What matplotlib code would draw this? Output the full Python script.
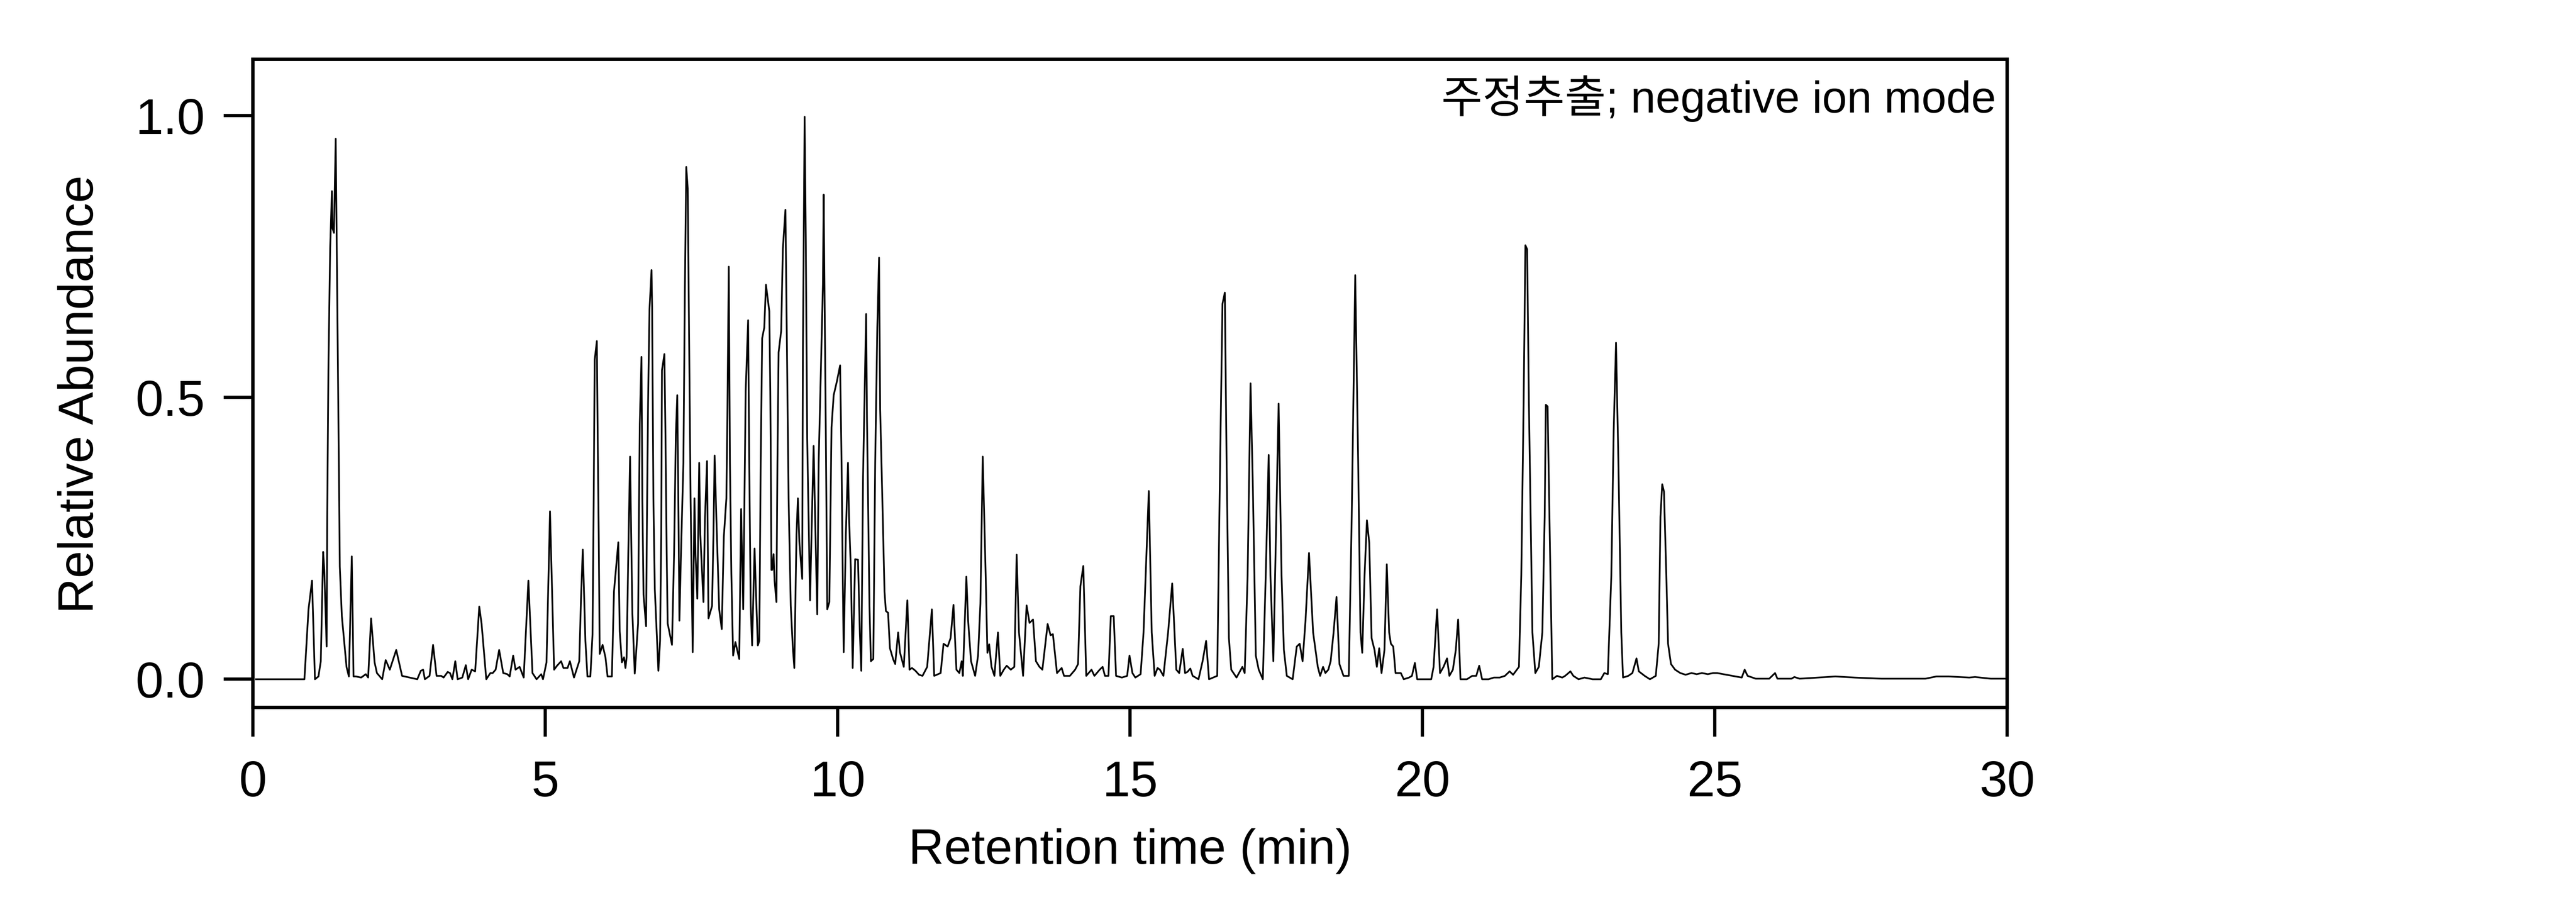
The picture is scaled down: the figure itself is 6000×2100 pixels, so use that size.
import numpy as np
import matplotlib
matplotlib.use('Agg')
import matplotlib.pyplot as plt

plt.rcParams['font.family'] = ['Liberation Sans', 'Noto Sans CJK KR', 'DejaVu Sans']

# chromatogram trace: retention time (min), relative abundance
rt = [0.05, 0.88, 0.95, 1.01, 1.06, 1.12, 1.16, 1.20, 1.22, 1.26, 1.27, 1.29, 1.32, 1.35, 1.36, 1.385,
      1.415, 1.43, 1.45, 1.47, 1.485, 1.52, 1.60, 1.64, 1.69, 1.72, 1.76, 1.85, 1.93, 1.97, 2.02, 2.08,
      2.12, 2.21, 2.27, 2.34, 2.45, 2.55, 2.81, 2.87, 2.91, 2.94, 3.02, 3.08, 3.14, 3.22, 3.26, 3.33,
      3.37, 3.41, 3.46, 3.50, 3.58, 3.64, 3.68, 3.74, 3.80, 3.87, 3.91, 3.99, 4.06, 4.10, 4.15, 4.21,
      4.28, 4.35, 4.39, 4.45, 4.49, 4.56, 4.63, 4.71, 4.78, 4.85, 4.93, 4.96, 5.02, 5.08, 5.15, 5.20,
      5.27, 5.31, 5.38, 5.42, 5.49, 5.58, 5.61, 5.64, 5.656, 5.685, 5.72, 5.77, 5.807, 5.827, 5.844, 5.881,
      5.898, 5.913, 5.930, 5.979, 6.028, 6.064, 6.138, 6.174, 6.248, 6.272, 6.309, 6.346, 6.37, 6.39, 6.419, 6.449,
      6.468, 6.488, 6.529, 6.586, 6.603, 6.615, 6.644, 6.659, 6.679, 6.723, 6.737, 6.757, 6.781, 6.816, 6.826, 6.848,
      6.872, 6.933, 6.962, 6.982, 6.994, 7.036, 7.055, 7.075, 7.092, 7.166, 7.202, 7.232, 7.256, 7.271, 7.293, 7.320,
      7.361, 7.386, 7.410, 7.435, 7.459, 7.484, 7.520, 7.550, 7.569, 7.599, 7.631, 7.650, 7.704, 7.729, 7.765, 7.790,
      7.851, 7.875, 7.895, 7.924, 7.973, 8.017, 8.052, 8.096, 8.113, 8.137, 8.157, 8.181, 8.211, 8.250, 8.316, 8.348,
      8.384, 8.426, 8.468, 8.487, 8.512, 8.536, 8.578, 8.610, 8.634, 8.659, 8.683, 8.708, 8.744, 8.773, 8.830, 8.847,
      8.854, 8.866, 8.880, 8.903, 8.920, 8.952, 8.969, 8.989, 9.033, 9.062, 9.106, 9.116, 9.136, 9.160, 9.197, 9.233,
      9.258, 9.295, 9.319, 9.344, 9.393, 9.405, 9.434, 9.454, 9.478, 9.527, 9.552, 9.588, 9.620, 9.650, 9.674, 9.718,
      9.747, 9.760, 9.777, 9.796, 9.821, 9.857, 9.894, 9.931, 9.987, 10.041, 10.066, 10.085, 10.102, 10.139, 10.176, 10.193,
      10.225, 10.256, 10.298, 10.347, 10.379, 10.403, 10.433, 10.486, 10.501, 10.543, 10.567, 10.609, 10.641, 10.677, 10.707, 10.726,
      10.763, 10.800, 10.824, 10.861, 10.893, 10.95, 10.983, 11.033, 11.064, 11.130, 11.191, 11.228, 11.27, 11.33, 11.39, 11.45,
      11.53, 11.61, 11.65, 11.76, 11.81, 11.88, 11.93, 11.98, 12.03, 12.08, 12.12, 12.14, 12.20, 12.23, 12.28, 12.35,
      12.40, 12.44, 12.48, 12.53, 12.56, 12.59, 12.63, 12.68, 12.74, 12.78, 12.84, 12.89, 12.96, 13.02, 13.06, 13.10,
      13.17, 13.23, 13.28, 13.34, 13.39, 13.45, 13.50, 13.59, 13.64, 13.68, 13.75, 13.83, 13.87, 13.97, 14.06, 14.11,
      14.15, 14.20, 14.25, 14.34, 14.39, 14.48, 14.53, 14.57, 14.63, 14.67, 14.72, 14.76, 14.86, 14.95, 14.99, 15.04,
      15.09, 15.18, 15.23, 15.32, 15.37, 15.42, 15.47, 15.51, 15.57, 15.65, 15.72, 15.76, 15.79, 15.84, 15.90, 15.94,
      15.98, 16.03, 16.07, 16.17, 16.24, 16.30, 16.35, 16.49, 16.54, 16.58, 16.62, 16.65, 16.69, 16.73, 16.82, 16.92,
      16.96, 17.01, 17.06, 17.10, 17.15, 17.20, 17.27, 17.32, 17.37, 17.40, 17.45, 17.50, 17.54, 17.59, 17.63, 17.68,
      17.78, 17.85, 17.90, 17.95, 18.00, 18.06, 18.13, 18.21, 18.25, 18.30, 18.34, 18.39, 18.43, 18.48, 18.53, 18.58,
      18.65, 18.74, 18.79, 18.85, 18.90, 18.94, 18.97, 19.01, 19.05, 19.09, 19.13, 19.18, 19.22, 19.26, 19.30, 19.35,
      19.39, 19.43, 19.46, 19.50, 19.54, 19.63, 19.68, 19.77, 19.82, 19.87, 19.91, 20.01, 20.15, 20.19, 20.25, 20.30,
      20.36, 20.42, 20.46, 20.52, 20.57, 20.61, 20.65, 20.76, 20.85, 20.92, 20.97, 21.02, 21.13, 21.22, 21.32, 21.41,
      21.49, 21.55, 21.65, 21.69, 21.73, 21.76, 21.79, 21.82, 21.88, 21.93, 21.99, 22.05, 22.09, 22.11, 22.14, 22.18,
      22.22, 22.30, 22.39, 22.44, 22.53, 22.58, 22.67, 22.77, 22.91, 23.05, 23.11, 23.17, 23.23, 23.27, 23.31, 23.35,
      23.40, 23.43, 23.52, 23.59, 23.66, 23.70, 23.80, 23.89, 23.99, 24.04, 24.07, 24.10, 24.13, 24.17, 24.20, 24.25,
      24.32, 24.41, 24.50, 24.60, 24.69, 24.78, 24.88, 24.97, 25.04, 25.46, 25.51, 25.56, 25.70, 25.93, 26.03, 26.07,
      26.31, 26.36, 26.45, 26.92, 27.06, 27.39, 27.85, 28.60, 28.79, 29.0, 29.35, 29.45, 29.72, 30.0]

abundance = [0.0, 0.0, 0.124, 0.175, 0.0, 0.005, 0.032, 0.226, 0.194, 0.058, 0.289, 0.548, 0.764, 0.866, 0.80, 0.792,
             0.959, 0.80, 0.586, 0.371, 0.200, 0.112, 0.022, 0.005, 0.218, 0.005, 0.005, 0.003, 0.009, 0.003, 0.108, 0.03,
             0.011, 0.0, 0.034, 0.017, 0.052, 0.006, 0.0, 0.015, 0.017, 0.0, 0.006, 0.061, 0.006, 0.006, 0.003, 0.013,
             0.011, 0.0, 0.032, 0.0, 0.003, 0.025, 0.0, 0.017, 0.014, 0.129, 0.098, 0.0, 0.011, 0.011, 0.017, 0.052,
             0.011, 0.009, 0.005, 0.042, 0.017, 0.022, 0.003, 0.175, 0.011, 0.0, 0.009, 0.0, 0.03, 0.298, 0.017, 0.024,
             0.032, 0.02, 0.02, 0.032, 0.003, 0.032, 0.143, 0.230, 0.175, 0.068, 0.005, 0.005, 0.080, 0.321, 0.567, 0.600,
             0.403, 0.257, 0.045, 0.061, 0.039, 0.005, 0.005, 0.156, 0.243, 0.085, 0.030, 0.039, 0.02, 0.039, 0.225, 0.395,
             0.257, 0.118, 0.01, 0.099, 0.321, 0.453, 0.572, 0.321, 0.150, 0.094, 0.276, 0.491, 0.656, 0.726, 0.660, 0.321,
             0.160, 0.015, 0.068, 0.257, 0.548, 0.577, 0.428, 0.225, 0.099, 0.061, 0.225, 0.434, 0.504, 0.358, 0.104, 0.225,
             0.384, 0.688, 0.909, 0.871, 0.599, 0.321, 0.048, 0.321, 0.220, 0.143, 0.384, 0.257, 0.137, 0.282, 0.387, 0.108,
             0.130, 0.257, 0.397, 0.289, 0.124, 0.089, 0.252, 0.321, 0.466, 0.732, 0.384, 0.188, 0.042, 0.066, 0.036, 0.302,
             0.124, 0.511, 0.637, 0.384, 0.130, 0.060, 0.232, 0.130, 0.060, 0.068, 0.384, 0.605, 0.624, 0.700, 0.653, 0.511,
             0.415, 0.194, 0.194, 0.222, 0.175, 0.137, 0.384, 0.580, 0.618, 0.764, 0.833, 0.738, 0.548, 0.321, 0.130, 0.055,
             0.02, 0.257, 0.321, 0.244, 0.178, 0.587, 0.998, 0.783, 0.428, 0.140, 0.257, 0.414, 0.257, 0.115, 0.384, 0.574,
             0.700, 0.860, 0.660, 0.447, 0.124, 0.137, 0.447, 0.504, 0.529, 0.557, 0.384, 0.194, 0.048, 0.257, 0.384, 0.289,
             0.194, 0.02, 0.213, 0.212, 0.080, 0.015, 0.358, 0.648, 0.460, 0.130, 0.032, 0.036, 0.384, 0.624, 0.748, 0.479,
             0.321, 0.156, 0.121, 0.118, 0.055, 0.035, 0.027, 0.083, 0.048, 0.022, 0.140, 0.017, 0.02, 0.015, 0.008, 0.006,
             0.022, 0.124, 0.006, 0.011, 0.063, 0.058, 0.073, 0.132, 0.017, 0.011, 0.032, 0.006, 0.182, 0.104, 0.032, 0.006,
             0.042, 0.134, 0.395, 0.186, 0.047, 0.062, 0.022, 0.006, 0.083, 0.006, 0.017, 0.024, 0.017, 0.022, 0.221, 0.083,
             0.006, 0.131, 0.10, 0.106, 0.032, 0.022, 0.017, 0.098, 0.078, 0.080, 0.011, 0.02, 0.006, 0.006, 0.017, 0.027,
             0.165, 0.201, 0.006, 0.017, 0.006, 0.017, 0.022, 0.006, 0.006, 0.112, 0.112, 0.006, 0.003, 0.006, 0.042, 0.011,
             0.003, 0.009, 0.083, 0.334, 0.083, 0.006, 0.020, 0.017, 0.006, 0.083, 0.170, 0.083, 0.017, 0.011, 0.054, 0.011,
             0.013, 0.019, 0.006, 0.0, 0.032, 0.068, 0.0, 0.006, 0.390, 0.666, 0.686, 0.390, 0.073, 0.017, 0.003, 0.022,
             0.011, 0.185, 0.525, 0.339, 0.042, 0.017, 0.0, 0.185, 0.398, 0.185, 0.032, 0.287, 0.489, 0.185, 0.052, 0.006,
             0.0, 0.058, 0.063, 0.032, 0.104, 0.224, 0.083, 0.022, 0.006, 0.022, 0.011, 0.017, 0.032, 0.083, 0.146, 0.027,
             0.006, 0.006, 0.288, 0.717, 0.390, 0.083, 0.047, 0.185, 0.282, 0.242, 0.073, 0.052, 0.022, 0.055, 0.011, 0.052,
             0.204, 0.083, 0.063, 0.058, 0.011, 0.011, 0.0, 0.003, 0.006, 0.029, 0.0, 0.0, 0.0, 0.022, 0.124, 0.011,
             0.022, 0.037, 0.006, 0.017, 0.052, 0.106, 0.0, 0.0, 0.006, 0.006, 0.024, 0.0, 0.0, 0.003, 0.003, 0.006,
             0.014, 0.008, 0.022, 0.185, 0.492, 0.770, 0.763, 0.492, 0.083, 0.011, 0.022, 0.083, 0.288, 0.487, 0.484, 0.236,
             0.0, 0.006, 0.003, 0.006, 0.014, 0.006, 0.0, 0.003, 0.0, 0.0, 0.011, 0.009, 0.185, 0.441, 0.597, 0.390,
             0.083, 0.003, 0.006, 0.011, 0.037, 0.014, 0.006, 0.0, 0.006, 0.063, 0.288, 0.346, 0.333, 0.185, 0.063, 0.027,
             0.017, 0.011, 0.008, 0.011, 0.009, 0.011, 0.009, 0.011, 0.011, 0.003, 0.017, 0.006, 0.001, 0.001, 0.011, 0.001,
             0.001, 0.004, 0.001, 0.004, 0.005, 0.003, 0.001, 0.001, 0.005, 0.005, 0.003, 0.004, 0.001, 0.001]

x_ticks = [0, 5, 10, 15, 20, 25, 30]
y_ticks = [0.0, 0.5, 1.0]
label_text = '주정추출; negative ion mode'

fig = plt.figure(figsize=(20, 7), dpi=300)
ax = fig.add_axes([0.0982, 0.2157, 0.6810, 0.7186])

ax.plot(rt, abundance, color='black', linewidth=0.95)

ax.set_xlim(0, 30)
ax.set_ylim(-0.05, 1.10)
ax.set_xticks(x_ticks)
ax.set_yticks(y_ticks)
ax.set_yticklabels(['%.1f' % v for v in y_ticks])

for sp in ax.spines.values():
    sp.set_linewidth(1.9)
ax.tick_params(axis='both', direction='out', width=1.8, length=16.3, labelsize=28)
ax.tick_params(axis='x', pad=13)
ax.tick_params(axis='y', pad=10.5)

ax.set_xlabel('Retention time (min)', fontsize=27.5, labelpad=12)
ax.set_ylabel('Relative Abundance', fontsize=27.5, labelpad=18, y=0.483)

ax.text(0.9936, 0.918, label_text, transform=ax.transAxes, ha='right', va='baseline', fontsize=25)

fig.savefig('out.png', dpi=300)
